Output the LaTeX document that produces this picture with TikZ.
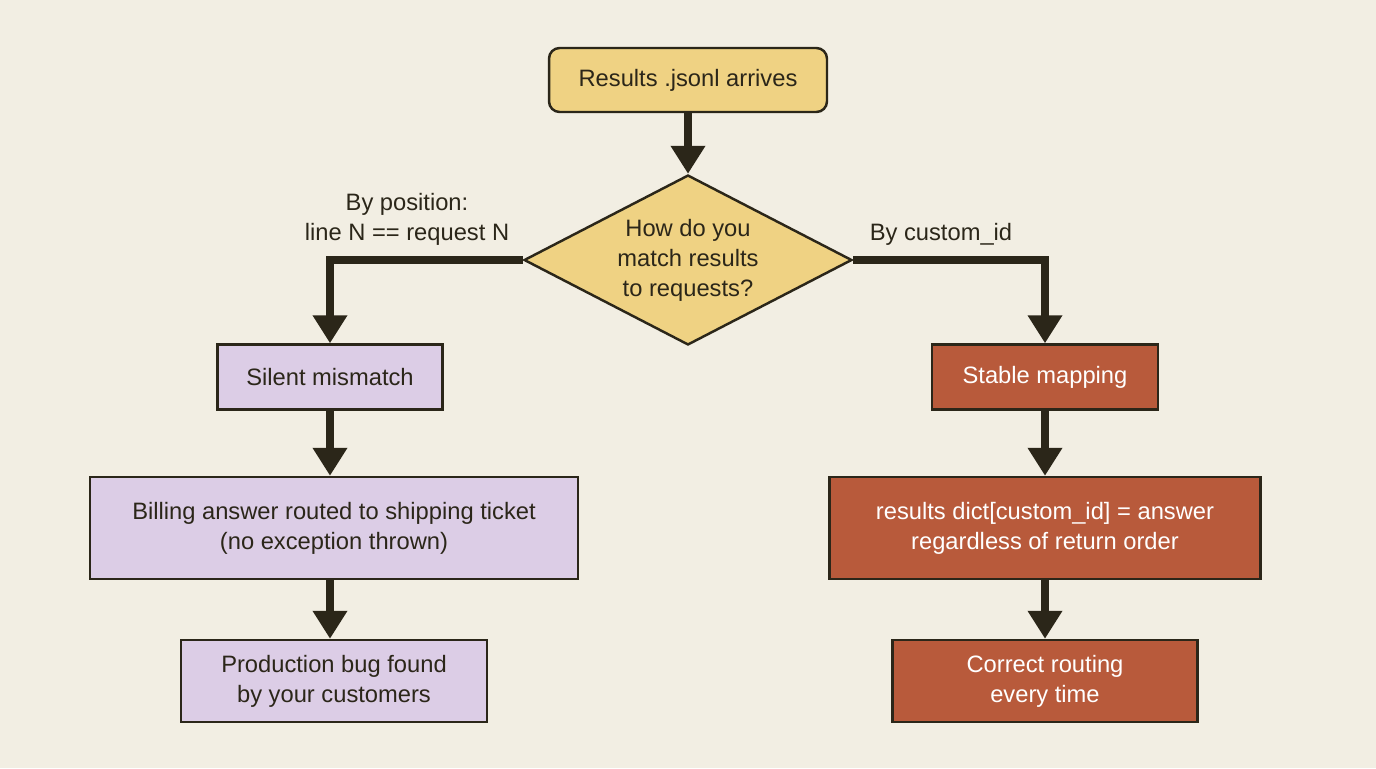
\documentclass[tikz,border=0pt]{standalone}
\usepackage{fontspec}
\setmainfont{Liberation Sans}
\usetikzlibrary{arrows.meta,shapes.geometric}
\definecolor{bgcol}{HTML}{F2EEE3}
\definecolor{ylw}{HTML}{EFD283}
\definecolor{lav}{HTML}{DCCDE6}
\definecolor{rust}{HTML}{B85A3B}
\definecolor{ink}{HTML}{2B2619}
\tikzset{
  box/.style={draw=ink, line width=1.4pt, align=center, inner sep=0pt,
    font=\fontsize{13.5}{17}\selectfont, text=ink},
  bad/.style={box, fill=lav},
  good/.style={box, fill=rust, text=white},
  flow/.style={draw=ink, line width=4.5pt,
    -{Triangle[length=0.56cm,width=0.66cm]}},
  lbl/.style={font=\fontsize{13.5}{17}\selectfont, text=ink, align=center}
}
\begin{document}
\begin{tikzpicture}[x=0.02cm,y=-0.02cm]
  \fill[bgcol] (0,0) rectangle (1376,768);
  \useasboundingbox (0,0) rectangle (1376,768);

  \node[box, fill=ylw, rounded corners=6pt, minimum width=5.56cm, minimum height=1.28cm] (start) at (688,80) {Results .jsonl arrives};
  \node[box, fill=ylw, diamond, aspect=1.93, minimum width=6.56cm, minimum height=3.4cm] (ask) at (688,260) {How do you\\match results\\to requests?};

  \node[bad, minimum width=4.5cm, minimum height=1.3cm] (mis) at (330,377) {Silent mismatch};
  \node[bad, minimum width=9.76cm, minimum height=2.04cm] (bill) at (334,528) {Billing answer routed to shipping ticket\\(no exception thrown)};
  \node[bad, minimum width=6.12cm, minimum height=1.64cm] (bug) at (334,681) {Production bug found\\by your customers};

  \node[good, minimum width=4.52cm, minimum height=1.3cm] (map) at (1045,377) {Stable mapping};
  \node[good, minimum width=8.62cm, minimum height=2.04cm] (dict) at (1045,528) {results dict[custom\_id] = answer\\regardless of return order};
  \node[good, minimum width=6.1cm, minimum height=1.64cm] (ok) at (1045,681) {Correct routing\\every time};

  \draw[flow] (start) -- (ask);
  \draw[flow] (ask.west) -| (mis.north);
  \draw[flow] (ask.east) -| (map.north);
  \draw[flow] (mis) -- (bill.north -| mis);
  \draw[flow] (bill.south -| mis) -- (bug.north -| mis);
  \draw[flow] (map) -- (dict);
  \draw[flow] (dict) -- (ok);

  \node[lbl] (lpos) at (407,219) {By position:\\line N == request N};
  \node[lbl] (lid) at (941,234) {By custom\_id};
\end{tikzpicture}
\end{document}
